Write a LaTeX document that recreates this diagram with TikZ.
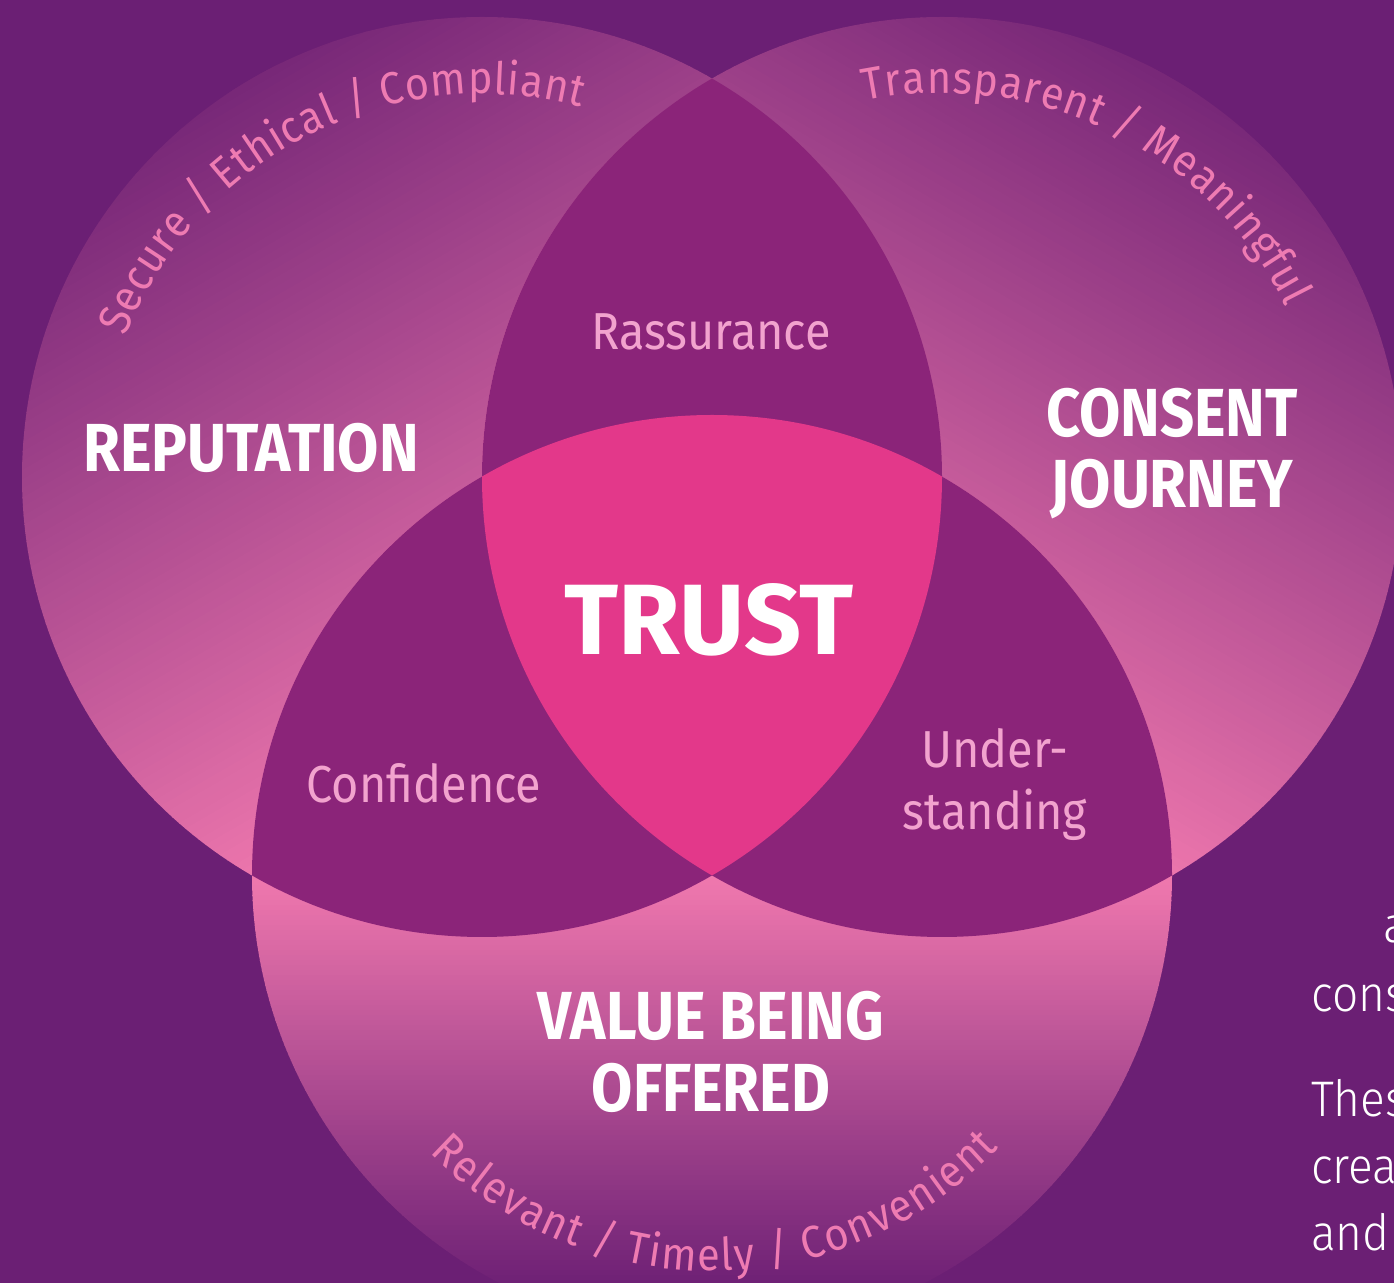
\documentclass[tikz,border=0pt]{standalone}
\usepackage{fontspec}
\setmainfont{Fira Sans}
\newfontfamily\hdfont[FakeStretch=0.88]{Fira Sans}
\newfontfamily\lblfont[FakeStretch=0.9]{Fira Sans}
\newfontfamily\arcfont[FakeStretch=0.92]{Fira Sans}
\newfontfamily\parafont[FakeStretch=0.92]{Fira Sans Light}
\usetikzlibrary{decorations.text}
\definecolor{bgc}{HTML}{6B1F74}
\definecolor{gdark}{HTML}{782878}
\definecolor{gbot}{HTML}{6D2075}
\definecolor{glight}{HTML}{F078AE}
\definecolor{lensc}{HTML}{8B2479}
\definecolor{centerc}{HTML}{E3388A}
\definecolor{lblpink}{HTML}{F2A3CE}
\definecolor{arcpink}{HTML}{EE7BB2}
\tikzset{
  hd/.style={font=\hdfont\bfseries\fontsize{68}{70}\selectfont, text=white, inner sep=0pt, anchor=base},
  trustlbl/.style={font=\bfseries\fontsize{100}{100}\selectfont, text=white, inner sep=0pt, anchor=base},
  lbl/.style={font=\lblfont\fontsize{52}{56}\selectfont, text=lblpink, inner sep=0pt, anchor=base},
  para/.style={font=\parafont\fontsize{50}{60}\selectfont, text=white, inner sep=0pt, anchor=base west},
  arctext/.style={decorate, decoration={text along path, text align=fit to path, text color=arcpink,
      text={|\arcfont\fontsize{45}{50}\selectfont|#1}}}
}
\begin{document}
\begin{tikzpicture}[x=1pt,y=1pt]
\useasboundingbox (0,0) rectangle (1394,1282);
\clip (-3,-3) rectangle (1397,1285);
\fill[bgc] (-3,-3) rectangle (1397,1285);
\coordinate (L) at (482,805);
\coordinate (Rc) at (942,805);
\coordinate (B) at (712,407);
% left circle gradient
\begin{scope}
  \clip (L) circle[radius=460];
  \begin{scope}[shift={(L)}, rotate=-60]
    \fill[gdark] (-520,-520) rectangle (-459,520);
    \foreach \i in {0,...,89} {
      \pgfmathsetmacro\p{\i*100/89}
      \fill[glight!\p!gdark] ({-460+\i*8},-520) rectangle ({-460+\i*8+8.8},520);
    }
    \fill[glight] (260,-520) rectangle (520,520);
  \end{scope}
\end{scope}
% right circle gradient
\begin{scope}
  \clip (Rc) circle[radius=460];
  \begin{scope}[shift={(Rc)}, rotate=-120]
    \fill[gdark] (-520,-520) rectangle (-459,520);
    \foreach \i in {0,...,89} {
      \pgfmathsetmacro\p{\i*100/89}
      \fill[glight!\p!gdark] ({-460+\i*8},-520) rectangle ({-460+\i*8+8.8},520);
    }
    \fill[glight] (260,-520) rectangle (520,520);
  \end{scope}
\end{scope}
% bottom circle gradient
\begin{scope}
  \clip (B) circle[radius=460];
  \begin{scope}[shift={(B)}, rotate=-90]
    \fill[glight] (-520,-520) rectangle (1,520);
    \foreach \i in {0,...,82} {
      \pgfmathsetmacro\p{100-\i*100/82}
      \fill[glight!\p!gbot] ({\i*5},-520) rectangle ({\i*5+5.6},520);
    }
    \fill[gbot] (414,-520) rectangle (520,520);
  \end{scope}
\end{scope}
% pairwise lenses
\begin{scope}
  \clip (L) circle[radius=460];
  \fill[lensc] (Rc) circle[radius=460];
  \fill[lensc] (B) circle[radius=460];
\end{scope}
\begin{scope}
  \clip (Rc) circle[radius=460];
  \fill[lensc] (B) circle[radius=460];
\end{scope}
% centre
\begin{scope}
  \clip (L) circle[radius=460];
  \clip (Rc) circle[radius=460];
  \fill[centerc] (B) circle[radius=460];
\end{scope}
% arc texts
\path[arctext={Secure / Ethical / Compliant}] ([shift={(158.5:383)}]L) arc[start angle=158.5, end angle=75, radius=383];
\path[arctext={Transparent / Meaningful}] ([shift={(101.6:384)}]Rc) arc[start angle=101.6, end angle=26.3, radius=384];
\path[arctext={Relevant / Timely / Convenient}] ([shift={(224.5:396)}]B) arc[start angle=224.5, end angle=316.5, radius=396];
% headings
\node[hd] (rep) at (251,810) {REPUTATION};
\node[hd] (cons) at (1172,845) {CONSENT};
\node[hd] (jour) at (1172,774) {JOURNEY};
\node[hd] (val) at (711,242) {VALUE BEING};
\node[hd] (off) at (711,170) {OFFERED};
\node[trustlbl] (trust) at (709,627) {TRUST};
% intersection labels
\node[lbl] (rass) at (711,932) {Rassurance};
\node[lbl] (conf) at (424,479) {Confidence};
\node[lbl] (und1) at (995,514) {Under-};
\node[lbl] (und2) at (995,452) {standing};
% cut-off paragraph
\node[para] (p1) at (1383,339) {a};
\node[para] (p2) at (1311,270) {cons};
\node[para] (p3) at (1311,165) {Thes};
\node[para] (p4) at (1311,99) {crea};
\node[para] (p5) at (1311,32) {and};
\end{tikzpicture}
\end{document}
